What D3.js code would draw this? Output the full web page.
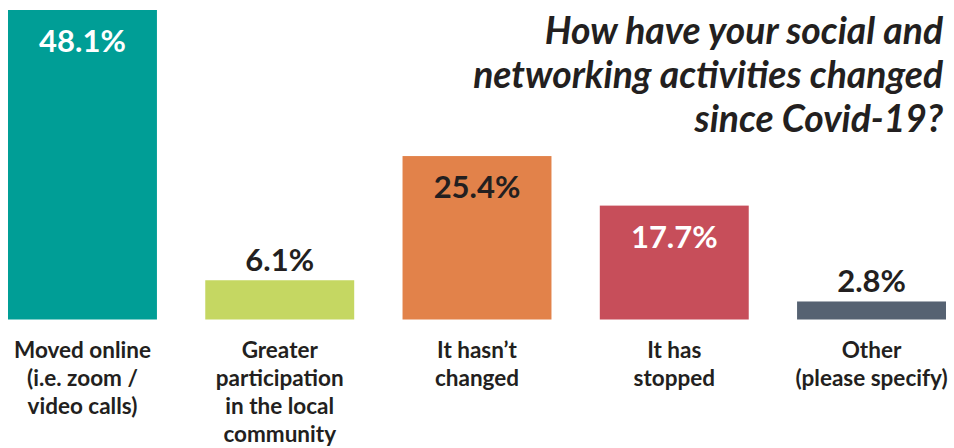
<!DOCTYPE html>
<html><head><meta charset="utf-8">
<script src="https://cdn.jsdelivr.net/npm/d3@7"></script>
<style>body{margin:0;background:#fff}svg{display:block}</style>
</head><body>
<svg id="c" width="954" height="448"></svg>
<script>
const categories = ["Moved online|(i.e. zoom /|video calls)", "Greater|participation|in the local|community", "It hasn’t|changed", "It has|stopped", "Other|(please specify)"];
const values = [48.1, 6.1, 25.4, 17.7, 2.8];
const colors = ["#009E96", "#C5D762", "#E2824A", "#C74E5A", "#566272"];
const labelInside = [true, false, true, true, false];
const labelColors = ["#ffffff", "#231F20", "#231F20", "#ffffff", "#231F20"];
const titleLines = ["How have your social and", "networking activities changed", "since Covid-19?"];

const svg = d3.select("#c");
const font = "Lato, 'Open Sans', sans-serif";
const x = d3.scaleBand().domain(d3.range(values.length)).range([8, 946]).paddingInner(0.245).paddingOuter(0);
const y = d3.scaleLinear().domain([0, 48.1]).range([319.5, 10]);

svg.selectAll("rect.bar").data(values).join("rect")
  .attr("class", "bar")
  .attr("x", (d, i) => x(i)).attr("width", x.bandwidth())
  .attr("y", d => y(d)).attr("height", d => y(0) - y(d))
  .attr("fill", (d, i) => colors[i]);

svg.selectAll("text.val").data(values).join("text")
  .attr("class", "val")
  .attr("x", (d, i) => x(i) + x.bandwidth() / 2)
  .attr("y", (d, i) => labelInside[i] ? y(d) + 42 : y(d) - 9)
  .attr("text-anchor", "middle")
  .attr("font-family", font).attr("font-weight", 700).attr("font-size", 31)
  .attr("fill", (d, i) => labelColors[i])
  .text(d => d.toFixed(1) + "%");

const cat = svg.selectAll("text.cat").data(categories).join("text")
  .attr("class", "cat")
  .attr("text-anchor", "middle")
  .attr("font-family", font).attr("font-weight", 700).attr("font-size", 22.5)
  .attr("fill", "#231F20");
cat.each(function(d, i) {
  d3.select(this).selectAll("tspan").data(d.split("|")).join("tspan")
    .attr("x", x(i) + x.bandwidth() / 2)
    .attr("y", (l, j) => 358 + j * 28)
    .text(l => l);
});

const title = svg.append("text")
  .attr("text-anchor", "end")
  .attr("font-family", font).attr("font-weight", 700).attr("font-style", "italic").attr("font-size", 34)
  .attr("fill", "#231F20");
title.selectAll("tspan").data(titleLines).join("tspan")
  .attr("x", 943).attr("y", (d, j) => 44 + j * 44)
  .text(d => d);
// scale title so the longest line spans ~470px like the reference
const widest = d3.max(title.selectAll("tspan").nodes(), n => n.getComputedTextLength());
title.attr("font-size", 34 * 470 / widest);
</script>
</body></html>
